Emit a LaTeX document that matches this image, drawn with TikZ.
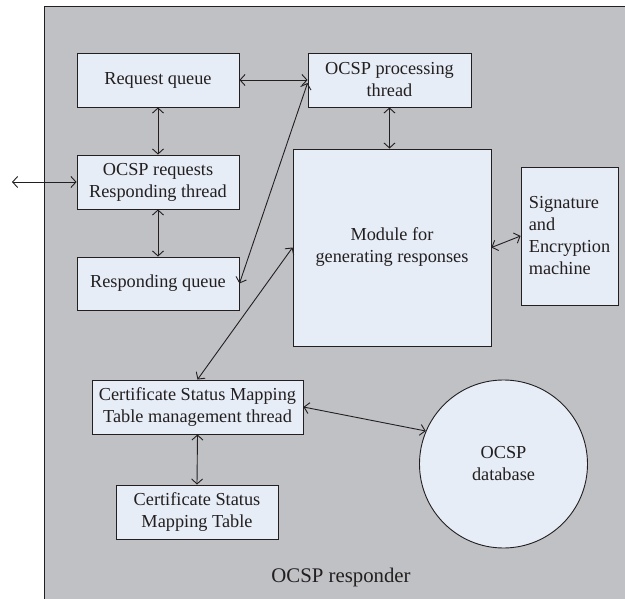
\documentclass[tikz,border=0pt]{standalone}
\usepackage{fontspec}
\setmainfont{Liberation Serif}
\usetikzlibrary{arrows.meta}
\definecolor{panelgrey}{RGB}{192,193,196}
\definecolor{boxfill}{RGB}{230,237,246}
\definecolor{ink}{RGB}{35,31,32}
\tikzset{
  blk/.style={draw=ink, line width=0.9pt, fill=boxfill, inner sep=0pt, align=center,
    text=ink, font=\fontsize{18.3}{22}\selectfont},
  link/.style={draw=ink, line width=0.9pt, {Straight Barb[length=5pt,width=11pt]}-{Straight Barb[length=5pt,width=11pt]}}
}
\begin{document}
\begin{tikzpicture}[x=1pt,y=-1pt]
\useasboundingbox (0,0) rectangle (625,599);
% responder panel
\fill[panelgrey] (44,7) rectangle (630,605);
\draw[ink, line width=1pt] (44,605) -- (44,7) -- (630,7);
\node[text=ink, font=\fontsize{20.8}{24}\selectfont] (lbl) at (341,577) {OCSP responder};

% blocks
\node[blk, minimum width=162pt, minimum height=54pt] (req) at (158,80) {Request queue};
\node[blk, minimum width=162pt, minimum height=54pt] (thr) at (158,182) {OCSP requests\\Responding thread};
\node[blk, minimum width=162pt, minimum height=53pt] (rsq) at (158,283.5) {Responding queue};
\node[blk, minimum width=163pt, minimum height=54pt] (proc) at (389.5,80) {OCSP processing\\thread};
\node[blk, minimum width=198pt, minimum height=197pt] (mod) at (392,247.5) {Module for\\generating responses};
\node[blk, align=left, minimum width=97pt, minimum height=138pt] (sig) at (569.5,236) {Signature\\and\\Encryption\\machine};
\node[blk, minimum width=211pt, minimum height=54pt] (csmt) at (197.5,407) {Certificate Status Mapping\\Table management thread};
\node[blk, minimum width=162pt, minimum height=54pt] (csm) at (197,512) {Certificate Status\\Mapping Table};
\node[blk, circle, minimum size=168pt] (db) at (503.5,464) {OCSP\\database};

% connectors
\coordinate (ext) at (12,182);
\draw[link] (ext) -- (thr.west);
\draw[link] (req.east) -- (proc.west);
\draw[link] (req.south) -- (thr.north);
\draw[link] (thr.south) -- (rsq.north);
\draw[link] (rsq.east) -- ([yshift=-3pt]proc.west);
\draw[link] (proc.south) -- (proc.south |- mod.north);
\draw[link] (mod.east) -- (sig.west);
\draw[link] (mod.west) -- (csmt.north);
\draw[link] (csmt.east) -- (db.157);
\draw[link] (csmt.south) -- (csm.north);
\end{tikzpicture}
\end{document}
